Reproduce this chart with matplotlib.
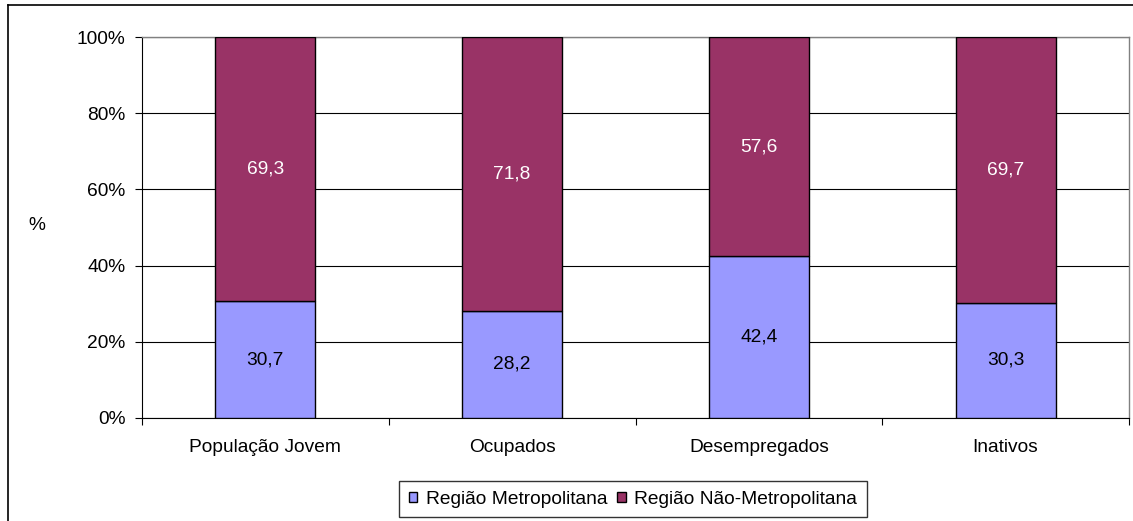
import numpy as np
import matplotlib.pyplot as plt
from matplotlib.lines import Line2D

plt.rcParams['font.family'] = ['Liberation Sans', 'DejaVu Sans']

categorias = ["População Jovem", "Ocupados", "Desempregados", "Inativos"]
metropolitana = [30.7, 28.2, 42.4, 30.3]
nao_metropolitana = [69.3, 71.8, 57.6, 69.7]
series = ["Região Metropolitana", "Região Não-Metropolitana"]
cores = ["#9999FF", "#993366"]

fs = 13.8

fig = plt.figure(figsize=(11.33, 5.21), dpi=100)
ax = fig.add_axes([142 / 1133, 1 - 418 / 521, 987 / 1133, 381 / 521])

x = np.arange(len(categorias))
larg = 0.405
b1 = ax.bar(x, metropolitana, larg, color=cores[0], edgecolor="black", linewidth=1, zorder=3, label=series[0])
b2 = ax.bar(x, nao_metropolitana, larg, bottom=metropolitana, color=cores[1], edgecolor="black", linewidth=1, zorder=3, label=series[1])

for i in range(len(categorias)):
    ax.text(x[i], metropolitana[i] / 2, f"{metropolitana[i]:.1f}".replace(".", ","),
            ha="center", va="center", fontsize=fs, color="black", zorder=4)
    ax.text(x[i], metropolitana[i] + nao_metropolitana[i] / 2, f"{nao_metropolitana[i]:.1f}".replace(".", ","),
            ha="center", va="center", fontsize=fs, color="white", zorder=4)

ax.set_xlim(-0.5, len(categorias) - 0.5)
ax.set_ylim(0, 100)
ax.set_yticks(np.arange(0, 101, 20))
ax.set_yticklabels([f"{v}%" for v in range(0, 101, 20)], fontsize=fs)
ax.yaxis.grid(True, color="black", linewidth=0.8, zorder=0)

# ticks on category boundaries, labels centred under the bars
ax.set_xticks(np.arange(-0.5, len(categorias), 1))
ax.set_xticklabels([])
ax.set_xticks(x, minor=True)
ax.set_xticklabels(categorias, minor=True, fontsize=fs)
ax.tick_params(axis="x", which="minor", length=0, pad=15)
ax.tick_params(axis="x", which="major", length=5, direction="out", color="black")
ax.tick_params(axis="y", length=5, direction="out", pad=7)

for lado in ["top", "right"]:
    ax.spines[lado].set_color("#808080")
    ax.spines[lado].set_linewidth(1)
ax.spines["left"].set_color("black")
ax.spines["bottom"].set_color("black")

fig.text(37 / 1133, 1 - 226 / 521, "%", fontsize=fs, ha="center", va="center")

handles = [plt.Rectangle((0, 0), 1, 1, facecolor=c, edgecolor="black", linewidth=1) for c in cores]
leg = fig.legend(handles, series, loc="center", bbox_to_anchor=(633 / 1133, 1 - 499 / 521),
                 ncol=2, fontsize=fs, frameon=True, fancybox=False, edgecolor="black",
                 handlelength=0.45, handleheight=0.45, handletextpad=0.45, columnspacing=0.5,
                 borderpad=0.5, borderaxespad=0)
leg.get_frame().set_linewidth(1)

# outer chart frame (top and left edges visible)
fig.add_artist(Line2D([8 / 1133, 1], [1 - 5 / 521, 1 - 5 / 521], color="black", linewidth=1.2))
fig.add_artist(Line2D([8 / 1133, 8 / 1133], [0, 1 - 5 / 521], color="black", linewidth=1.2))

fig.savefig("out.png", dpi=100, facecolor="white")
